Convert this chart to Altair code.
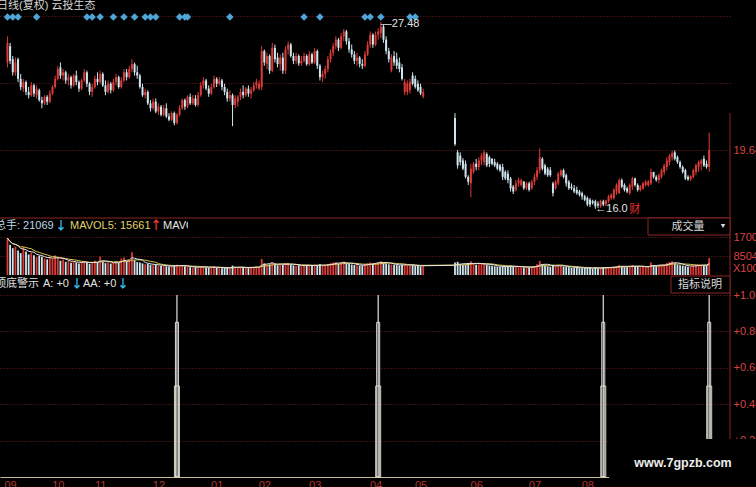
import json
import altair as alt
import pandas as pd

# ---------------------------------------------------------------- daily bars
# bar positions (trading days); the stock was suspended between bar 157 and bar 169
BAR_INDEX = list(range(0, 158)) + list(range(169, 266))

OPEN = [
    25.0, 26.0, 25.2, 24.4, 25.2, 24.0, 23.4, 23.8, 23.2, 23.0,
    23.6, 23.0, 23.3, 22.7, 22.5, 22.9, 22.6, 23.1, 23.5, 24.0,
    24.7, 24.2, 24.4, 23.9, 24.1, 23.6, 24.2, 23.8, 23.4, 23.9,
    24.4, 23.7, 23.2, 23.5, 24.0, 23.8, 24.3, 23.6, 23.2, 23.7,
    23.3, 23.8, 24.1, 23.5, 23.9, 24.4, 24.1, 24.6, 24.9, 24.4,
    24.2, 23.5, 23.0, 23.2, 22.5, 22.2, 22.6, 22.0, 22.3, 21.8,
    22.2, 21.7, 21.5, 21.9, 21.3, 21.8, 22.2, 22.7, 22.3, 22.9,
    22.5, 22.8, 22.4, 23.0, 23.6, 23.9, 23.4, 23.1, 23.5, 24.0,
    23.7, 23.9, 23.5, 23.2, 22.8, 23.0, 22.4, 22.6, 22.9, 23.2,
    23.0, 23.4, 23.1, 23.3, 23.6, 23.4, 23.5, 25.7, 24.9, 25.4,
    24.5, 25.9, 25.3, 24.9, 25.3, 24.5, 25.8, 26.1, 25.4, 25.1,
    25.4, 24.95, 25.1, 25.4, 24.9, 25.5, 25.0, 25.7, 24.8, 24.1,
    24.3, 24.6, 25.2, 25.6, 26.0, 26.4, 25.9, 26.6, 26.9, 26.3,
    25.8, 25.5, 25.1, 25.3, 24.9, 24.8, 25.5, 26.1, 26.7, 26.1,
    26.7, 26.8, 27.2, 26.4, 25.7, 24.5, 25.4, 25.2, 25.0, 24.7,
    23.2, 23.2, 23.3, 24.2, 24.0, 23.7, 23.5, 22.9,
    21.6, 19.5, 19.3, 19.0, 18.8, 18.0, 17.6, 18.3, 18.8, 18.6,
    19.0, 18.9, 19.4, 19.2, 19.1, 18.9, 18.8, 18.7, 18.6, 18.3,
    18.2, 17.9, 17.4, 17.2, 17.6, 17.5, 17.7, 17.3, 17.6, 17.3,
    17.7, 18.0, 18.4, 19.1, 18.7, 18.5, 18.4, 17.6, 17.3, 17.6,
    18.1, 18.4, 18.1, 17.7, 17.4, 17.3, 17.2, 17.1, 17.0, 16.8,
    16.7, 16.6, 16.5, 16.5, 16.35, 16.2, 16.5, 16.3, 16.5, 16.7,
    16.7, 17.1, 17.0, 17.8, 17.5, 17.3, 17.0, 17.4, 17.9, 17.5,
    17.2, 17.3, 17.5, 17.5, 17.6, 18.3, 18.0, 17.8, 18.0, 18.3,
    18.6, 18.9, 19.2, 19.5, 19.2, 18.9, 18.6, 18.4, 18.0, 17.85,
    18.0, 18.3, 18.6, 18.8, 19.1, 18.8, 18.6,
]
HIGH = [
    26.6, 26.2, 25.4, 25.3, 25.3, 24.3, 24.0, 23.9, 23.5, 23.8,
    23.7, 23.6, 23.4, 22.9, 23.0, 23.0, 23.3, 23.6, 24.2, 24.8,
    25.0, 24.6, 24.5, 24.3, 24.2, 24.3, 24.5, 23.9, 24.0, 24.6,
    24.5, 23.8, 23.7, 24.2, 24.4, 24.5, 24.4, 23.9, 23.9, 23.8,
    24.0, 24.3, 24.2, 24.1, 24.6, 24.6, 24.8, 25.2, 25.0, 24.8,
    24.3, 23.7, 23.4, 23.3, 22.7, 22.8, 22.8, 22.5, 22.4, 22.4,
    22.5, 21.9, 22.0, 22.0, 21.9, 22.4, 22.8, 22.8, 23.0, 23.1,
    23.0, 23.0, 23.2, 23.8, 24.1, 24.0, 23.6, 23.7, 24.2, 24.1,
    24.1, 24.0, 23.7, 23.4, 23.3, 23.1, 23.0, 23.0, 23.4, 23.6,
    23.5, 23.6, 23.5, 23.8, 24.0, 23.9, 26.0, 25.8, 25.6, 25.5,
    26.2, 26.1, 25.6, 25.5, 25.6, 26.0, 26.3, 26.2, 25.6, 25.6,
    25.5, 25.4, 25.6, 25.5, 25.7, 25.6, 25.9, 25.8, 24.9, 24.5,
    24.8, 25.4, 25.8, 26.2, 26.6, 26.5, 26.8, 27.05, 27.0, 26.5,
    26.1, 25.7, 25.6, 25.4, 25.2, 25.7, 26.3, 26.9, 26.8, 26.9,
    27.1, 27.48, 27.3, 26.6, 25.9, 25.5, 25.7, 25.6, 25.3, 24.9,
    24.0, 23.9, 24.0, 24.4, 24.2, 23.9, 23.7, 23.4,
    21.9, 19.64, 19.5, 19.15, 19.0, 18.1, 18.8, 18.9, 19.1, 19.2,
    19.45, 19.64, 19.5, 19.3, 19.15, 19.1, 18.9, 18.8, 18.8, 18.4,
    18.4, 18.0, 17.5, 17.8, 17.95, 17.9, 17.75, 17.7, 17.7, 17.8,
    18.2, 18.6, 19.75, 19.2, 18.8, 18.6, 18.6, 17.7, 17.8, 18.3,
    18.45, 18.5, 18.2, 17.8, 17.6, 17.5, 17.4, 17.2, 17.1, 16.9,
    16.8, 16.7, 16.6, 16.6, 16.5, 16.6, 16.6, 16.6, 16.9, 17.0,
    17.3, 17.6, 17.9, 17.9, 17.6, 17.4, 17.6, 18.0, 17.95, 17.6,
    17.5, 17.7, 17.8, 17.8, 18.5, 18.3, 18.1, 18.2, 18.5, 18.8,
    19.2, 19.4, 19.6, 19.62, 19.3, 19.0, 18.7, 18.5, 18.1, 18.1,
    18.5, 18.8, 19.0, 19.1, 19.3, 19.0, 20.7,
]
LOW = [
    24.7, 24.9, 24.2, 24.2, 23.8, 23.3, 23.2, 23.0, 22.8, 22.9,
    22.9, 22.8, 22.6, 22.2, 22.4, 22.4, 22.5, 23.0, 23.4, 23.9,
    24.0, 23.9, 23.7, 23.6, 23.4, 23.5, 23.6, 23.2, 23.3, 23.8,
    23.5, 23.0, 22.9, 23.4, 23.6, 23.7, 23.5, 23.0, 23.1, 23.1,
    23.2, 23.6, 23.4, 23.4, 23.8, 23.9, 24.0, 24.4, 24.2, 24.0,
    23.4, 22.9, 22.8, 22.4, 22.0, 22.1, 21.9, 21.8, 21.7, 21.7,
    21.6, 21.4, 21.4, 21.15, 21.2, 21.7, 22.1, 22.1, 22.2, 22.4,
    22.4, 22.3, 22.3, 22.9, 23.4, 23.3, 22.9, 23.0, 23.4, 23.5,
    23.6, 23.3, 23.0, 22.6, 22.6, 21.1, 22.2, 22.3, 22.7, 22.8,
    22.9, 22.9, 22.8, 23.2, 23.4, 23.3, 23.3, 24.8, 24.6, 24.3,
    24.4, 25.0, 24.7, 24.5, 24.3, 24.3, 25.5, 25.3, 24.9, 24.9,
    24.8, 24.8, 25.0, 24.8, 24.8, 24.9, 24.9, 24.6, 23.9, 23.8,
    24.0, 24.4, 25.0, 25.4, 25.8, 25.7, 25.8, 26.3, 26.1, 25.6,
    25.3, 24.9, 24.8, 24.7, 24.6, 24.7, 25.4, 25.9, 25.9, 26.0,
    26.4, 26.5, 26.2, 25.5, 25.0, 24.4, 24.8, 24.6, 24.4, 23.9,
    23.0, 23.0, 23.1, 23.6, 23.4, 23.2, 23.0, 22.8,
    19.9, 18.5, 18.7, 18.4, 17.9, 17.5, 16.75, 18.2, 18.4, 18.4,
    18.7, 18.7, 18.6, 18.6, 18.7, 18.6, 18.4, 18.3, 17.8, 17.8,
    17.6, 17.1, 16.95, 17.1, 17.4, 17.4, 17.2, 17.2, 17.1, 17.2,
    17.5, 17.8, 18.2, 18.4, 18.1, 18.0, 18.0, 16.8, 17.2, 17.5,
    18.0, 17.9, 17.4, 17.2, 17.2, 17.0, 16.9, 16.8, 16.6, 16.5,
    16.2, 16.15, 16.3, 16.04, 16.1, 16.1, 16.2, 16.2, 16.4, 16.6,
    16.6, 16.9, 16.95, 17.3, 17.1, 17.0, 16.9, 17.2, 17.4, 17.1,
    17.1, 17.2, 17.4, 17.4, 17.5, 17.9, 17.7, 17.6, 17.9, 18.1,
    18.4, 18.7, 19.0, 19.0, 18.8, 18.5, 18.2, 17.8, 17.75, 17.75,
    17.9, 18.1, 18.3, 18.4, 18.6, 18.5, 18.3,
]
CLOSE = [
    26.2, 25.1, 24.4, 25.0, 24.0, 23.5, 23.8, 23.2, 23.0, 23.6,
    23.1, 23.4, 22.7, 22.5, 22.9, 22.6, 23.1, 23.5, 24.0, 24.6,
    24.2, 24.4, 23.9, 24.1, 23.6, 24.2, 23.8, 23.4, 23.9, 24.4,
    23.7, 23.2, 23.5, 24.0, 23.8, 24.3, 23.6, 23.2, 23.7, 23.3,
    23.8, 24.1, 23.5, 23.9, 24.4, 24.1, 24.6, 24.9, 24.4, 24.2,
    23.5, 23.0, 23.2, 22.5, 22.2, 22.6, 22.0, 22.3, 21.8, 22.2,
    21.7, 21.5, 21.9, 21.3, 21.8, 22.2, 22.7, 22.3, 22.9, 22.5,
    22.8, 22.4, 23.0, 23.6, 23.9, 23.4, 23.1, 23.5, 24.0, 23.7,
    23.9, 23.5, 23.2, 22.8, 23.0, 22.4, 22.8, 22.9, 23.2, 23.0,
    23.4, 23.1, 23.3, 23.6, 23.8, 23.7, 25.7, 25.0, 25.4, 24.5,
    25.9, 25.2, 24.9, 25.3, 24.5, 25.8, 26.1, 25.4, 25.1, 25.4,
    24.95, 25.1, 25.4, 24.9, 25.5, 25.0, 25.7, 24.8, 24.1, 24.3,
    24.6, 25.2, 25.6, 26.0, 26.4, 25.9, 26.6, 26.9, 26.3, 25.8,
    25.5, 25.1, 25.3, 24.9, 24.8, 25.5, 26.1, 26.7, 26.1, 26.7,
    26.9, 27.2, 26.4, 25.7, 25.2, 25.3, 25.0, 24.8, 24.6, 24.0,
    23.8, 23.7, 23.8, 23.7, 23.5, 23.3, 23.1, 23.2,
    20.0, 18.7, 18.9, 18.5, 18.0, 17.7, 18.5, 18.8, 18.6, 19.0,
    19.3, 19.5, 18.7, 18.8, 18.8, 18.7, 18.5, 18.4, 18.0, 17.9,
    17.8, 17.3, 17.1, 17.6, 17.8, 17.8, 17.3, 17.6, 17.2, 17.7,
    18.0, 18.4, 19.2, 18.5, 18.2, 18.1, 18.1, 17.0, 17.7, 18.2,
    18.4, 18.0, 17.6, 17.3, 17.3, 17.1, 17.0, 16.9, 16.8, 16.6,
    16.3, 16.3, 16.4, 16.2, 16.25, 16.5, 16.3, 16.55, 16.8, 16.9,
    17.2, 17.5, 17.8, 17.4, 17.2, 17.1, 17.5, 17.9, 17.5, 17.2,
    17.4, 17.6, 17.7, 17.7, 18.3, 18.0, 17.8, 18.1, 18.4, 18.7,
    19.0, 19.3, 19.45, 19.1, 18.9, 18.6, 18.3, 17.9, 17.85, 18.05,
    18.4, 18.7, 18.9, 19.0, 18.7, 18.6, 19.64,
]
# volume in lots (x100 shares)
VOLUME = [
    16500, 13500, 12000, 12800, 11000, 9800, 12500, 10500, 9200, 10000,
    8800, 8000, 8600, 8200, 7400, 7000, 7800, 7300, 8800, 7600,
    6400, 6900, 5900, 6300, 5500, 6000, 5600, 5200, 5800, 6200,
    5400, 5000, 5600, 6400, 5800, 8200, 5900, 5300, 5600, 5100,
    5500, 6000, 5400, 7400, 7800, 6200, 6800, 10200, 6600, 5800,
    5600, 5200, 4800, 5000, 4600, 4400, 4700, 4300, 4000, 4200,
    3900, 3800, 4100, 4300, 4600, 4000, 4200, 3900, 3700, 3500,
    3400, 3600, 3300, 3900, 3700, 3400, 3200, 3500, 3800, 3300,
    3100, 3000, 3200, 3400, 3100, 4200, 3500, 3300, 3600, 3200,
    3400, 3100, 3300, 3700, 3900, 3600, 7200, 5200, 4600, 4800,
    5600, 4900, 4400, 4700, 4500, 5200, 5400, 4600, 4300, 4100,
    4400, 4000, 4200, 4500, 4300, 4100, 4600, 4400, 4800, 4200,
    4300, 4900, 5300, 5600, 5800, 5000, 5500, 6000, 5200, 4900,
    4700, 4500, 4400, 4200, 4300, 4800, 5200, 5600, 5000, 5400,
    5800, 6200, 5500, 5100, 4800, 4700, 4500, 4400, 4300, 4600,
    4900, 4400, 4200, 4500, 4100, 4000, 3900, 4200,
    5600, 5900, 4800, 4500, 4700, 5400, 6200, 5100, 4600, 4800,
    5000, 5300, 4600, 4300, 4100, 3900, 3800, 3700, 4000, 3600,
    3800, 4300, 3900, 3600, 3500, 3700, 3400, 3500, 3300, 3600,
    4000, 4800, 6300, 4700, 4200, 3900, 3700, 4600, 4100, 4300,
    4000, 3800, 3600, 3500, 3300, 3200, 3400, 3100, 3000, 3200,
    3300, 3100, 2900, 3400, 3000, 3200, 3500, 3300, 3600, 3400,
    3700, 4000, 4400, 3900, 3600, 3500, 4100, 4500, 3900, 3700,
    3500, 3800, 3600, 3700, 5600, 4300, 4000, 4200, 4500, 4900,
    5400, 5800, 6100, 5200, 4700, 4400, 4200, 4000, 3700, 3900,
    4300, 4600, 4800, 4500, 4200, 4400, 7600,
]

# signal markers along the top of the price panel
TOP_MARK_BARS = [0, 2, 4, 11, 30, 32, 35, 40, 44, 48, 52, 54, 56, 65, 67, 68,
                 84, 112, 118, 135, 137, 141, 152, 154]
# top/bottom warning sticks in the lower panel
SIGNAL_BARS = [64, 140, 225, 265]
SIGNAL_LEVELS = [1.0, 0.85, 0.5]
SIGNAL_WIDTHS = [1, 3, 5]

MONTH_LABELS = ["09", "10", "11", "12", "01", "02", "03", "04", "05", "06", "07", "08"]
MONTH_BARS = [1, 19, 35, 57, 79, 97, 116, 139, 156, 177, 199, 219]

PRICE_GRID = [19.64, 23.74, 27.84]
VOL_TICKS = [8504, 17008]
IND_TICKS = [0.2, 0.4, 0.6, 0.8, 1.0]

TITLE = ["日线(复权) 云投生态"]
VOL_HEAD = ["总手: 21069", "↓", "MAVOL5: 15661", "↑", "MAVOL10"]
IND_HEAD = ["顶底警示", "A: +0", "↓", "AA: +0", "↓"]
VOL_UNIT = ["X100"]
LOW_TAG = "财"
BUTTONS = ["成交量", "▼", "指标说明"]
WATERMARK = ["www.7gpzb.com"]

# ---------------------------------------------------------------- styling
FONT = "Liberation Sans, Noto Sans CJK SC, sans-serif"
ARROW_FONT = "Noto Sans CJK SC, DejaVu Sans, sans-serif"
UP = "#dc3c38"
DOWN = "#cfe6ee"
GRID = "#7a1c1c"
FRAME = "#8c2424"
AXIS_RED = "#dc4242"

bars = pd.DataFrame({"i": BAR_INDEX, "open": OPEN, "high": HIGH, "low": LOW,
                     "close": CLOSE, "vol": VOLUME})

x_axis = alt.Axis(
    values=MONTH_BARS,
    labelExpr=f"{json.dumps(MONTH_LABELS)}[indexof({json.dumps(MONTH_BARS)}, datum.value)]",
    orient="bottom", grid=False, ticks=False, domain=True, domainColor="#cbbb9e",
    domainWidth=1.2, labelColor="#b6352f", labelFont=FONT, labelFontSize=11,
    labelPadding=2, labelBaseline="top", labelAlign="center", labelFlush=False,
    labelOverlap=False, title=None, zindex=0,
)
X = alt.X("i:Q", scale=alt.Scale(domain=[-0.93, 270.97], nice=False, zero=False), axis=x_axis)

price_sc = alt.Scale(domain=[16, 28], range=[209.5, 13.5], nice=False, zero=False)
vol_sc = alt.Scale(domain=[0, 17008], range=[275, 237], nice=False, zero=False)
ind_sc = alt.Scale(domain=[0, 1], range=[477, 295], nice=False, zero=False)


def right_axis(values, expr):
    return alt.Axis(orient="right", values=values, labelExpr=expr, grid=True,
                    gridColor=GRID, gridDash=[1, 2], gridWidth=1, ticks=False,
                    domain=False, labelColor=AXIS_RED, labelFont=FONT,
                    labelFontSize=11, labelPadding=3, labelAlign="left",
                    labelBaseline="middle", labelOverlap=False, title=None, zindex=0)


price_axis = right_axis(PRICE_GRID, "datum.value < 20 ? format(datum.value, '.2f') : ''")
vol_axis = right_axis(VOL_TICKS, "format(datum.value, 'd')")
ind_axis = right_axis(IND_TICKS, "'+' + format(datum.value, '.2f')")

base = alt.Chart(bars)
colored = base.transform_calculate(dir="datum.close >= datum.open ? 'up' : 'down'")
COLOR = alt.Color("dir:N", scale=alt.Scale(domain=["up", "down"], range=[UP, DOWN]), legend=None)

# candles
wicks = colored.mark_rule(strokeWidth=1).encode(
    x=X, y=alt.Y("low:Q", scale=price_sc, axis=None), y2="high:Q", color=COLOR)
bodies = colored.mark_bar(size=2).encode(
    x=X, y=alt.Y("open:Q", scale=price_sc, axis=price_axis), y2="close:Q", color=COLOR)

# volume
vol_bars = colored.transform_calculate(v0="0").mark_bar(size=1.8).encode(
    x=X, y=alt.Y("vol:Q", scale=vol_sc, axis=vol_axis), y2="v0:Q", color=COLOR)
ma = base.transform_window(ma5="mean(vol)", frame=[-4, 0], sort=[alt.SortField("i")]) \
         .transform_window(ma10="mean(vol)", frame=[-9, 0], sort=[alt.SortField("i")])
ma10 = ma.mark_line(color="#dcc84c", strokeWidth=1).encode(
    x=X, y=alt.Y("ma10:Q", scale=vol_sc, axis=None))
ma5 = ma.mark_line(color="#e8e8e8", strokeWidth=1).encode(
    x=X, y=alt.Y("ma5:Q", scale=vol_sc, axis=None))

# diamonds along the top row
diamonds = alt.Chart(pd.DataFrame({"i": TOP_MARK_BARS})).mark_point(
    shape="diamond", filled=True, size=55, color="#4ea6d8", opacity=1
).encode(x=X, y=alt.value(17))

# high / low annotations
peak = base.transform_joinaggregate(hmax="max(high)").transform_filter(
    "datum.high == datum.hmax").transform_calculate(
    lbl="'—' + format(datum.high, '.2f')").mark_text(
    align="left", baseline="middle", dx=0, dy=2, font=FONT, fontSize=11, color="#e0e0e0"
).encode(x=X, y=alt.Y("high:Q", scale=price_sc, axis=None), text="lbl:N")

trough = base.transform_joinaggregate(lmin="min(low)").transform_filter(
    "datum.low == datum.lmin")
trough_lbl = trough.transform_calculate(lbl="'←' + format(datum.low, '.1f')").mark_text(
    align="left", baseline="middle", dx=0, dy=0, font=FONT, fontSize=11, color="#e0e0e0"
).encode(x=X, y=alt.Y("low:Q", scale=price_sc, axis=None), text="lbl:N")
trough_tag = trough.mark_text(
    text=LOW_TAG, align="left", baseline="middle", dx=34, dy=1, font=FONT,
    fontSize=11, color="#e83232"
).encode(x=X, y=alt.Y("low:Q", scale=price_sc, axis=None))

# warning sticks
sig_rows = pd.DataFrame([{"i": b, "v": v, "w": w}
                         for b in SIGNAL_BARS
                         for v, w in zip(SIGNAL_LEVELS, SIGNAL_WIDTHS)])
sig = alt.Chart(sig_rows).transform_calculate(v0="0")
stick_top = sig.transform_filter(f"datum.w == {SIGNAL_WIDTHS[0]}").mark_rule(
    color="#e2e2e2", strokeWidth=1.2).encode(
    x=X, y=alt.Y("v:Q", scale=ind_sc, axis=ind_axis), y2="v0:Q")
stick_mid = sig.transform_filter(f"datum.w == {SIGNAL_WIDTHS[1]}").mark_bar(
    size=SIGNAL_WIDTHS[1], fillOpacity=0, stroke="#dedede", strokeWidth=1).encode(
    x=X, y=alt.Y("v:Q", scale=ind_sc, axis=None), y2="v0:Q")
stick_low = sig.transform_filter(f"datum.w == {SIGNAL_WIDTHS[2]}").mark_bar(
    size=SIGNAL_WIDTHS[2], fillOpacity=0, stroke="#d8d2b8", strokeWidth=1).encode(
    x=X, y=alt.Y("v:Q", scale=ind_sc, axis=None), y2="v0:Q")


# ---------------------------------------------------------------- frame and texts
def one_row(text=""):
    return alt.Chart(pd.DataFrame({"t": [text]}))


def text_at(text, x, y, color, size=11, align="left", weight="normal", font=FONT, **kw):
    return one_row(text).mark_text(
        align=align, baseline="middle", font=font, fontSize=size,
        fontWeight=weight, color=color, **kw
    ).encode(x=alt.value(x), y=alt.value(y), text="t:N")


def hline(x1, x2, y, color, width=1):
    return one_row().mark_rule(color=color, strokeWidth=width).encode(
        x=alt.value(x1), x2=alt.value(x2), y=alt.value(y))


def box(x1, x2, y1, y2, stroke, width=1):
    return one_row().mark_rect(fill="#000000", stroke=stroke, strokeWidth=width).encode(
        x=alt.value(x1), x2=alt.value(x2), y=alt.value(y1), y2=alt.value(y2))


def is_arrow(t):
    return t in ("↓", "↑")


panel_line = hline(0, 730, 218, FRAME)
side_line = one_row().mark_rule(color=FRAME, strokeWidth=1).encode(
    x=alt.value(730), y=alt.value(113), y2=alt.value(439))

title = text_at(TITLE[0], -3, 6, "#d6d6d6")

# volume header; the last item runs into the edge of the header strip
vol_head_x = [-5, 55, 70, 150, 163]
vol_head_c = ["#bcd6e2", "#38b8ea", "#e0d268", "#ea3a3a", "#e6e6e6"]
vol_head = [text_at(t, x, 226, c, size=12 if is_arrow(t) else 11,
                    weight="bold" if is_arrow(t) else "normal",
                    font=ARROW_FONT if is_arrow(t) else FONT)
            for t, x, c in zip(VOL_HEAD, vol_head_x, vol_head_c)]
vol_head_edge = one_row().mark_rect(fill="#000000").encode(
    x=alt.value(188), x2=alt.value(260), y=alt.value(219), y2=alt.value(234))

ind_head_x = [-5, 43, 71, 83, 117]
ind_head_c = ["#e2e2e2", "#e2e2e2", "#38b8ea", "#e2e2e2", "#38b8ea"]
ind_head = [text_at(t, x, 284, c, size=12 if is_arrow(t) else 11,
                    weight="bold" if is_arrow(t) else "normal",
                    font=ARROW_FONT if is_arrow(t) else FONT)
            for t, x, c in zip(IND_HEAD, ind_head_x, ind_head_c)]

vol_unit = text_at(VOL_UNIT[0], 733, 269, AXIS_RED)

btn_vol = box(648, 730, 218, 235, FRAME)
btn_vol_t = text_at(BUTTONS[0], 688, 227, "#d8d8d8", align="center")
btn_vol_arrow = text_at(BUTTONS[1], 723, 226, "#e0e0e0", size=7, align="center")
btn_ind = box(671, 730, 276, 293, FRAME)
btn_ind_t = text_at(BUTTONS[2], 700, 285, "#d8d8d8", align="center")

mark_box = one_row().mark_rect(fill="#000000").encode(
    x=alt.value(609), x2=alt.value(760), y=alt.value(439), y2=alt.value(490))
watermark = text_at(WATERMARK[0], 683, 463, "#ececec", size=12.5, align="center",
                    weight="bold")

chart = alt.layer(
    panel_line, side_line,
    wicks, bodies,
    vol_bars, ma10, ma5,
    stick_low, stick_mid, stick_top,
    diamonds, peak, trough_lbl, trough_tag,
    title, *vol_head, vol_head_edge, *ind_head, vol_unit,
    btn_vol, btn_vol_t, btn_vol_arrow, btn_ind, btn_ind_t,
    mark_box, watermark,
).resolve_scale(
    y="independent"
).properties(
    width=730, height=477,
    autosize=alt.AutoSizeParams(type="none"),
    padding={"left": 0, "top": 0, "right": 26, "bottom": 10},
).configure(
    background="#000000", font=FONT
).configure_view(
    strokeWidth=0
)

chart.save("out.html", embed_options={"renderer": "svg", "actions": False})
